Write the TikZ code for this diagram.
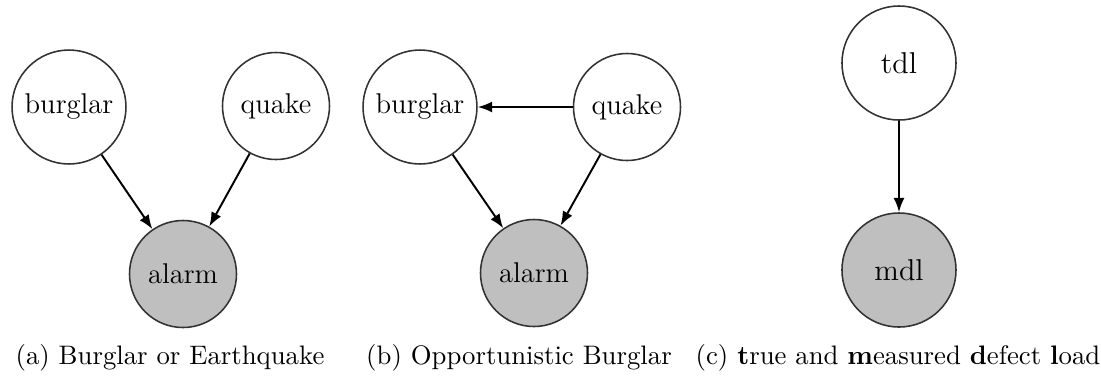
\documentclass[tikz,border=0pt]{standalone}
\usepackage{tikz}
\usetikzlibrary{arrows.meta}

\begin{document}
\begin{tikzpicture}[x=0.385pt,y=-0.385pt,
  varnode/.style={draw=black!80,line width=0.6pt,circle,minimum size=41.2pt,font=\fontsize{11}{13}\selectfont},
  obsnode/.style={varnode,fill=black!25},
  bignode/.style={minimum size=43.9pt,font=\fontsize{11.6}{14}\selectfont},
  depedge/.style={-{Latex[length=5.5pt,width=4.2pt]},line width=0.75pt},
  capnode/.style={anchor=base,inner sep=0pt,font=\fontsize{10.3}{12}\selectfont}]
  \useasboundingbox (0,0) rectangle (1101,376);
  % (a) burglar or earthquake
  \node[varnode] (burglarA) at (69,107) {burglar};
  \node[varnode] (quakeA) at (276,106) {quake};
  \node[obsnode] (alarmA) at (183,274) {alarm};
  \draw[depedge] (burglarA) -- (alarmA);
  \draw[depedge] (quakeA) -- (alarmA);
  \node[capnode] (capA) at (170,364) {(a) Burglar or Earthquake};
  % (b) opportunistic burglar
  \node[varnode] (burglarB) at (420,107) {burglar};
  \node[varnode] (quakeB) at (627,107) {quake};
  \node[obsnode] (alarmB) at (534,273) {alarm};
  \draw[depedge] (quakeB) -- (burglarB);
  \draw[depedge] (burglarB) -- (alarmB);
  \draw[depedge] (quakeB) -- (alarmB);
  \node[capnode] (capB) at (519,364) {(b) Opportunistic Burglar};
  % (c) defect load
  \node[varnode,bignode] (tdl) at (899,63) {tdl};
  \node[obsnode,bignode] (mdl) at (899,270) {mdl};
  \draw[depedge] (tdl) -- (mdl);
  \node[capnode] (capC) at (898,364) {(c) \textbf{t}rue and \textbf{m}easured \textbf{d}efect \textbf{l}oad};
\end{tikzpicture}
\end{document}
